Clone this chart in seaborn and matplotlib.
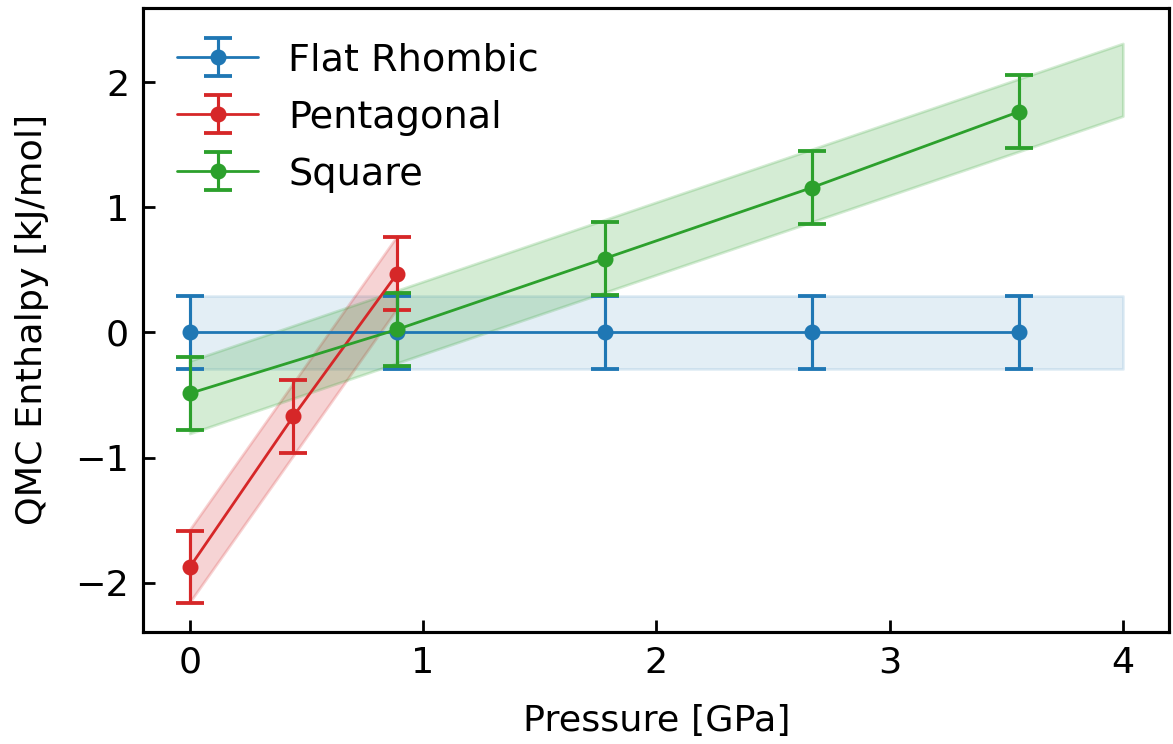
import matplotlib
matplotlib.use("Agg")
import matplotlib.pyplot as plt
import seaborn as sns
import numpy as np

# values
pressure = [0.0, 0.889, 1.778, 2.667, 3.556]
pressure_pent = [0.0, 0.444, 0.889]

flat_rhombic = [0.0, 0.0, 0.0, 0.0, 0.0]
pentagonal = [-1.875, -0.67, 0.47]
square = [-0.487, 0.024, 0.59, 1.157, 1.764]

err = 0.29

sns.set_style("ticks")
plt.rcParams["font.family"] = ["DejaVu Sans"]
for k in ["text.color", "axes.labelcolor", "xtick.color", "ytick.color"]:
    plt.rcParams[k] = "black"
colors = sns.color_palette("tab10")
blue, red, green = colors[0], colors[3], colors[2]

fig, ax = plt.subplots(figsize=(4.692, 2.976), dpi=250)
fig.subplots_adjust(left=0.122, right=0.997, top=0.989, bottom=0.151)

series = [
    ("Flat Rhombic", pressure, flat_rhombic, blue, 4.0, 0.12),
    ("Pentagonal", pressure_pent, pentagonal, red, pressure_pent[-1], 0.2),
    ("Square", pressure, square, green, 4.0, 0.2),
]

for name, x, y, c, xend, alpha in series:
    # linear fit band with the statistical error as width
    slope, icpt = np.polyfit(x, y, 1)
    xf = np.array([0.0, xend])
    yf = icpt + slope * xf
    ax.fill_between(xf, yf - err, yf + err, color=c, alpha=alpha, lw=0.8)
    ax.errorbar(x, y, yerr=err, fmt="o-", color=c, label=name,
                lw=0.8, ms=3.6, capsize=4, capthick=1.1, elinewidth=0.9)

ax.set_xlim(-0.2, 4.2)
ax.set_ylim(-2.39, 2.59)
ax.set_xticks([0, 1, 2, 3, 4])
ax.set_yticks([-2, -1, 0, 1, 2])
ax.tick_params(direction="in", labelsize=10.5, length=3.5, width=0.8, pad=4)
for s in ax.spines.values():
    s.set_linewidth(0.9)
    s.set_color("black")
ax.set_xlabel("Pressure [GPa]", fontsize=10.5, labelpad=7)
ax.set_ylabel("QMC Enthalpy [kJ/mol]", fontsize=10.5, labelpad=7.5)
ax.legend(loc="upper left", frameon=False, fontsize=11, labelspacing=0.55,
          handlelength=2.1)

fig.savefig("out.png", dpi=250)
